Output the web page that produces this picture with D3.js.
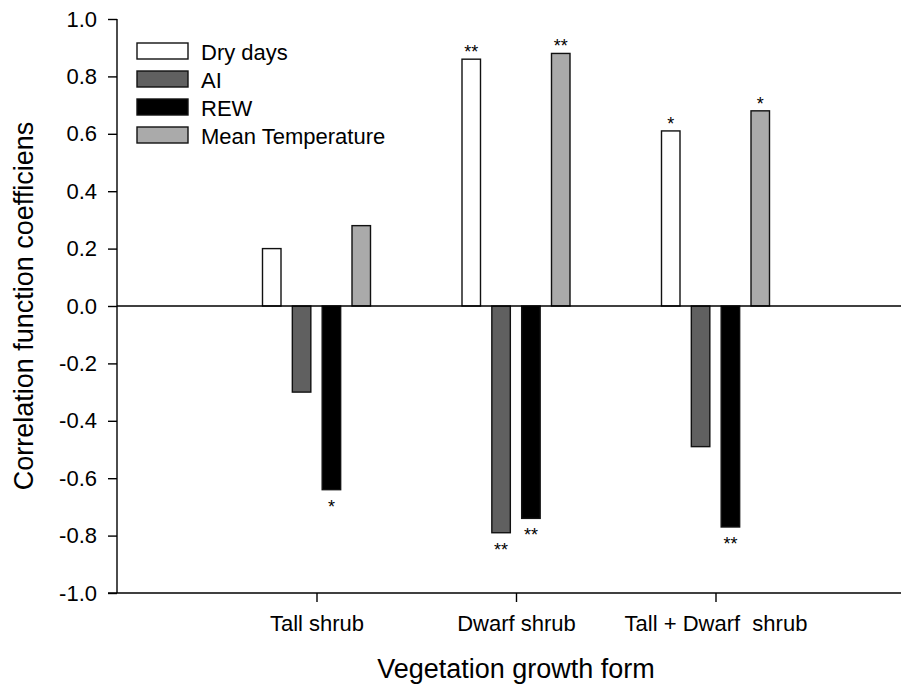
<!DOCTYPE html>
<html>
<head>
<meta charset="utf-8">
<script src="https://cdn.jsdelivr.net/npm/d3@7"></script>
<style>
  html, body { margin: 0; padding: 0; background: #fff; }
  svg text { font-family: "Liberation Sans", Arial, sans-serif; fill: #000; }
</style>
</head>
<body>
<svg id="chart" width="901" height="686"></svg>
<script>
// Growth forms on the x axis
const categories = ["Tall shrub", "Dwarf shrub", "Tall + Dwarf  shrub"];
// Climate variables (one bar each per growth form)
const seriesNames = ["Dry days", "AI", "REW", "Mean Temperature"];
const seriesColors = ["#ffffff", "#606060", "#000000", "#aaaaaa"];
// Correlation coefficients, per series, in category order
const dryDays = [0.20, 0.86, 0.61];
const ai = [-0.30, -0.79, -0.49];
const rew = [-0.64, -0.74, -0.77];
const meanTemp = [0.28, 0.88, 0.68];
// Significance marks, per series, in category order
const sigDryDays = ["", "**", "*"];
const sigAI = ["", "**", ""];
const sigREW = ["*", "**", "**"];
const sigMeanTemp = ["", "**", "*"];
const yTicks = [-1.0, -0.8, -0.6, -0.4, -0.2, 0.0, 0.2, 0.4, 0.6, 0.8, 1.0];

const values = [dryDays, ai, rew, meanTemp];
const sigs = [sigDryDays, sigAI, sigREW, sigMeanTemp];

const FONT = "Liberation Sans, Arial, sans-serif";
const svg = d3.select("#chart");
const plotLeft = 117, plotTop = 19, plotBottom = 593, plotRight = 915;

const y = d3.scaleLinear().domain([-1, 1]).range([plotBottom, plotTop]);
// Category slots sit at positions 1..3 of a 0..4 axis
const x = d3.scaleLinear().domain([0, 4]).range([plotLeft, plotRight]);
const inner = d3.scaleBand().domain(d3.range(seriesNames.length))
  .range([-54, 54]).paddingInner(0.38).paddingOuter(0);

// Y axis
const yAxis = svg.append("g").attr("transform", `translate(${plotLeft},0)`)
  .call(d3.axisLeft(y).tickValues(yTicks).tickFormat(d => d.toFixed(1)).tickSize(9).tickPadding(11));
yAxis.select(".domain").attr("stroke", "#000").attr("stroke-width", 1.4).attr("d", `M0,${plotTop}V${plotBottom}`);
yAxis.selectAll(".tick line").attr("stroke", "#000").attr("stroke-width", 1.4);
yAxis.selectAll(".tick text").attr("font-size", 22).attr("font-family", FONT);

// X axis (ticks at the category centres)
const xAxis = svg.append("g").attr("transform", `translate(0,${plotBottom})`)
  .call(d3.axisBottom(x).tickValues([1, 2, 3]).tickFormat(d => categories[d - 1]).tickSize(9).tickPadding(13));
xAxis.select(".domain").attr("stroke", "#000").attr("stroke-width", 1.4).attr("d", `M${plotLeft - 9},0H${plotRight}`);
xAxis.selectAll(".tick line").attr("stroke", "#000").attr("stroke-width", 1.4);
xAxis.selectAll(".tick text").attr("font-size", 22).attr("font-family", FONT).style("white-space", "pre");

// Bars
const bars = [];
values.forEach((vals, s) => vals.forEach((v, c) => bars.push({ s, c, v, sig: sigs[s][c] })));

svg.append("g").selectAll("rect").data(bars).join("rect")
  .attr("x", d => x(d.c + 1) + inner(d.s))
  .attr("width", inner.bandwidth())
  .attr("y", d => y(Math.max(0, d.v)))
  .attr("height", d => Math.abs(y(d.v) - y(0)))
  .attr("fill", d => seriesColors[d.s])
  .attr("stroke", "#111").attr("stroke-width", 1.4);

// Zero reference line
svg.append("line")
  .attr("x1", plotLeft).attr("x2", plotRight).attr("y1", y(0)).attr("y2", y(0))
  .attr("stroke", "#000").attr("stroke-width", 1.4);

// Significance stars
svg.append("g").selectAll("text").data(bars.filter(d => d.sig)).join("text")
  .attr("x", d => x(d.c + 1) + inner(d.s) + inner.bandwidth() / 2)
  .attr("y", d => d.v >= 0 ? y(d.v) - 1 : y(d.v) + 23)
  .attr("text-anchor", "middle").attr("font-size", 18)
  .text(d => d.sig);

// Legend
const legend = svg.append("g").attr("transform", "translate(137,43)");
seriesNames.forEach((name, i) => {
  const g = legend.append("g").attr("transform", `translate(0,${i * 28})`);
  g.append("rect").attr("width", 51).attr("height", 16)
    .attr("fill", seriesColors[i]).attr("stroke", "#111").attr("stroke-width", 1.4);
  g.append("text").attr("x", 64).attr("y", 17).attr("font-size", 22).text(name);
});

// Axis titles
svg.append("text")
  .attr("transform", `translate(33,${y(0)}) rotate(-90)`)
  .attr("text-anchor", "middle").attr("font-size", 27)
  .text("Correlation function coefficiens");
svg.append("text")
  .attr("x", x(2)).attr("y", 678)
  .attr("text-anchor", "middle").attr("font-size", 27)
  .text("Vegetation growth form");
</script>
</body>
</html>
